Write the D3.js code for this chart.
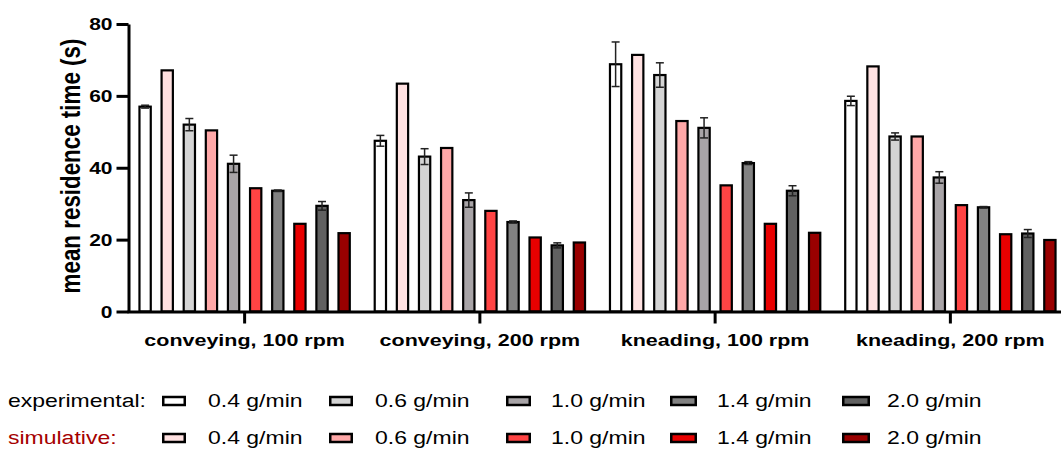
<!DOCTYPE html>
<html>
<head>
<meta charset="utf-8">
<script src="https://cdn.jsdelivr.net/npm/d3@7"></script>
<style>
  html, body { margin: 0; padding: 0; background: #fff; }
  svg { display: block; }
  text { font-family: "Liberation Sans", Arial, sans-serif; }
</style>
</head>
<body>
<svg id="chart" width="1061" height="450"></svg>
<script>
// ---- data ----
const categories = ["conveying, 100 rpm", "conveying, 200 rpm", "kneading, 100 rpm", "kneading, 200 rpm"];
const rates = ["0.4 g/min", "0.6 g/min", "1.0 g/min", "1.4 g/min", "2.0 g/min"];

const exp04 = [57.0, 47.5, 68.8, 58.6];
const exp06 = [52.0, 43.1, 65.8, 48.7];
const exp10 = [41.1, 31.0, 51.1, 37.3];
const exp14 = [33.6, 24.9, 41.3, 29.0];
const exp20 = [29.4, 18.4, 33.6, 21.7];

const exp04Err = [0.4, 1.5, 6.2, 1.3];
const exp06Err = [1.7, 2.2, 3.4, 1.0];
const exp10Err = [2.4, 2.0, 2.8, 1.6];
const exp14Err = [0.2, 0.3, 0.4, 0.2];
const exp20Err = [1.2, 0.7, 1.4, 1.1];

const sim04 = [67.1, 63.4, 71.4, 68.2];
const sim06 = [50.4, 45.5, 53.0, 48.7];
const sim10 = [34.3, 28.0, 35.1, 29.6];
const sim14 = [24.4, 20.6, 24.4, 21.5];
const sim20 = [21.8, 19.2, 21.9, 19.9];

const yTicks = [0, 20, 40, 60, 80];
const expColors = ["#ffffff", "#d4d4d4", "#a8a4a7", "#828282", "#616161"];
const simColors = ["#ffe1e1", "#ffa8a8", "#ff4444", "#e80000", "#990000"];

// ---- series table ----
const expVals = [exp04, exp06, exp10, exp14, exp20];
const expErrs = [exp04Err, exp06Err, exp10Err, exp14Err, exp20Err];
const simVals = [sim04, sim06, sim10, sim14, sim20];
const series = [];
rates.forEach((r, i) => {
  series.push({ key: "exp" + i, values: expVals[i], errs: expErrs[i], color: expColors[i] });
  series.push({ key: "sim" + i, values: simVals[i], errs: null, color: simColors[i] });
});

const SY = 0.785; // vertical squash of all text in reference
const svg = d3.select("#chart");

const x0 = d3.scaleBand().domain(categories).range([127, 1068]).paddingInner(0.06).paddingOuter(0.03);
const x1 = d3.scaleBand().domain(series.map(s => s.key)).range([0, x0.bandwidth()]).paddingInner(0.39).paddingOuter(0.195);
const y = d3.scaleLinear().domain([0, 80]).range([311.5, 24]);

// bars
const groups = svg.append("g").selectAll("g").data(categories).join("g")
  .attr("transform", d => `translate(${x0(d)},0)`);

groups.each(function(cat, ci) {
  const g = d3.select(this);
  const rows = series.map(s => ({ key: s.key, v: s.values[ci], e: s.errs ? s.errs[ci] : null, color: s.color }));
  g.selectAll("rect").data(rows).join("rect")
    .attr("x", d => x1(d.key) + 1.1)
    .attr("width", x1.bandwidth() - 2.2)
    .attr("y", d => y(d.v))
    .attr("height", d => y(0) - y(d.v))
    .attr("fill", d => d.color)
    .attr("stroke", "#000")
    .attr("stroke-width", 2.2);
  const eb = g.selectAll("g.err").data(rows.filter(d => d.e !== null)).join("g").attr("class", "err")
    .attr("stroke", "#222").attr("stroke-width", 1.5).attr("fill", "none");
  eb.append("line")
    .attr("x1", d => x1(d.key) + x1.bandwidth() / 2).attr("x2", d => x1(d.key) + x1.bandwidth() / 2)
    .attr("y1", d => y(d.v + d.e)).attr("y2", d => y(d.v - d.e));
  eb.append("line")
    .attr("x1", d => x1(d.key) + x1.bandwidth() / 2 - 4).attr("x2", d => x1(d.key) + x1.bandwidth() / 2 + 4)
    .attr("y1", d => y(d.v + d.e)).attr("y2", d => y(d.v + d.e));
  eb.append("line")
    .attr("x1", d => x1(d.key) + x1.bandwidth() / 2 - 4).attr("x2", d => x1(d.key) + x1.bandwidth() / 2 + 4)
    .attr("y1", d => y(d.v - d.e)).attr("y2", d => y(d.v - d.e));
});

// y axis
const yAxis = svg.append("g").attr("transform", "translate(128.5,0)")
  .call(d3.axisLeft(y).tickValues(yTicks).tickSize(12).tickSizeOuter(0).tickPadding(4));
yAxis.select(".domain").attr("stroke-width", 3).attr("stroke", "#000");
yAxis.selectAll(".tick line").attr("stroke-width", 3).attr("stroke", "#000");
yAxis.selectAll(".tick text")
  .attr("font-family", "'Liberation Sans', Arial, sans-serif")
  .attr("font-size", 21).attr("font-weight", "bold").attr("fill", "#000")
  .attr("dy", "0.36em")
  .attr("transform", `scale(1,${SY})`);

// x axis
const xAxis = svg.append("g").attr("transform", `translate(0,${y(0)})`)
  .call(d3.axisBottom(x0).tickSize(12).tickSizeOuter(0));
xAxis.select(".domain").attr("stroke-width", 3).attr("stroke", "#000");
xAxis.selectAll(".tick line").attr("stroke-width", 3).attr("stroke", "#000");
xAxis.selectAll(".tick text")
  .attr("font-family", "'Liberation Sans', Arial, sans-serif")
  .attr("font-size", 21.5).attr("font-weight", "bold").attr("fill", "#000")
  .attr("y", 0).attr("dy", 0)
  .attr("transform", `translate(0,34) scale(1,${SY})`);

// y label
svg.append("text")
  .attr("transform", `translate(80,166) scale(1,${SY}) rotate(-90)`)
  .attr("text-anchor", "middle")
  .attr("font-size", 28.5).attr("font-weight", "bold").attr("fill", "#000")
  .text("mean residence time (s)");

// legend
const legendRows = [
  { label: "experimental:", color: "#000", fills: expColors, base: 407 },
  { label: "simulative:", color: "#a50000", fills: simColors, base: 444 }
];
const swX = [162, 329, 506, 670, 842];
const swW = [24, 24, 25, 27, 28];
const txX = [208, 375, 551, 717, 887];

legendRows.forEach(row => {
  const lg = svg.append("g");
  lg.append("text")
    .attr("transform", `translate(8,${row.base}) scale(1,${SY})`)
    .attr("font-size", 23).attr("fill", row.color).text(row.label);
  const items = lg.selectAll("g.item").data(rates).join("g").attr("class", "item");
  items.append("rect")
    .attr("x", (d, i) => swX[i] + 1.25).attr("y", row.base - 10)
    .attr("width", (d, i) => swW[i] - 2.5).attr("height", 8)
    .attr("fill", (d, i) => row.fills[i]).attr("stroke", "#000").attr("stroke-width", 2.5);
  items.append("text")
    .attr("transform", (d, i) => `translate(${txX[i]},${row.base}) scale(1,${SY})`)
    .attr("font-size", 23).attr("fill", "#000").text(d => d);
});
</script>
</body>
</html>
